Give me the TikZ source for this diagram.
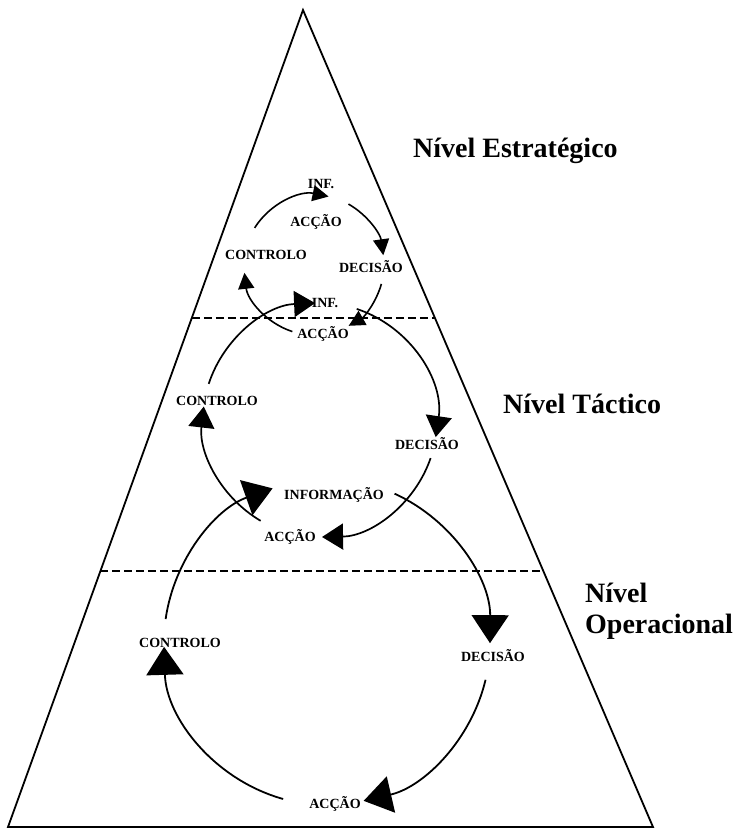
\documentclass[tikz,border=0pt]{standalone}
\usepackage{fontspec}
\setmainfont{Liberation Serif}
\usetikzlibrary{arrows.meta,calc}
\begin{document}
\begin{tikzpicture}[x=1pt,y=-1pt,
  tag/.style={font=\fontsize{14}{15}\selectfont\bfseries, inner sep=0pt, anchor=base},
  level/.style={font=\fontsize{28}{32}\selectfont\bfseries, inner sep=0pt, anchor=base west},
  edge/.style={line width=1.8pt, line join=miter},
  divider/.style={line width=1.6pt, dash pattern=on 8pt off 4pt},
  cycA/.style={line width=1.6pt, -{Triangle[length=16pt,width=16pt]}},
  cycB/.style={line width=1.7pt, -{Triangle[length=21pt,width=26pt]}},
  cycC/.style={line width=1.8pt, -{Triangle[length=28pt,width=37pt]}},
]
\useasboundingbox (0,0) rectangle (735,828);

% pyramid and level dividers
\coordinate (apex) at (303,10);
\coordinate (bl) at (8,827);
\coordinate (br) at (653,827);
\draw[edge] (apex) -- (bl) -- (br) -- cycle;
\coordinate (upL) at ($(apex)!0.377!(bl)$);
\coordinate (upR) at ($(apex)!0.377!(br)$);
\coordinate (loL) at ($(apex)!0.6867!(bl)$);
\coordinate (loR) at ($(apex)!0.6867!(br)$);
\draw[divider] (upL) -- (upR);
\draw[divider] (loL) -- (loR);

% level names
\node[level] (estr) at (413,157) {Nível Estratégico};
\node[level] (tact) at (503,413) {Nível Táctico};
\node[level] (oper1) at (585,602) {Nível};
\node[level] (oper2) at (585,633) {Operacional};

% strategic cycle
\node[tag] (infA) at (321,188) {INF.};
\node[tag] (accA) at (316,226) {ACÇÃO};
\node[tag] (ctlA) at (266,259) {CONTROLO};
\node[tag] (decA) at (371,272) {DECISÃO};
\node[tag] (infB) at (325,307) {INF.};
\node[tag] (accB) at (323,338) {ACÇÃO};
\coordinate (cA) at (314,265);
\draw[cycA] ($(cA)+(-148:70)$) arc[start angle=-148, end angle=-78, radius=70];
\draw[cycA] ($(cA)+(-60.5:70)$) arc[start angle=-60.5, end angle=-8, radius=70];
\draw[cycA] ($(cA)+(15.7:70)$) arc[start angle=15.7, end angle=60.3, radius=70];
\draw[cycA] ($(cA)+(108:70)$) arc[start angle=108, end angle=173.6, radius=70];

% tactical cycle
\node[tag] (ctlB) at (217,405) {CONTROLO};
\node[tag] (decB) at (427,449) {DECISÃO};
\node[tag] (infC) at (334,499) {INFORMAÇÃO};
\node[tag] (accC) at (290,541) {ACÇÃO};
\coordinate (cB) at (320,420);
\draw[cycB] ($(cB)+(-162:117)$) arc[start angle=-162, end angle=-92.4, radius=117];
\draw[cycB] ($(cB)+(-71.7:117)$) arc[start angle=-71.7, end angle=8.4, radius=117];
\draw[cycB] ($(cB)+(19:117)$) arc[start angle=19, end angle=89, radius=117];
\draw[cycB] ($(cB)+(120.5:117)$) arc[start angle=120.5, end angle=186.6, radius=117];

% operational cycle
\node[tag] (ctlC) at (180,647) {CONTROLO};
\node[tag] (decC) at (493,661) {DECISÃO};
\node[tag] (accD) at (335,808) {ACÇÃO};
\coordinate (cC) at (327,642);
\draw[cycC] ($(cC)+(-171.9:163)$) arc[start angle=-171.9, end angle=-109.5, radius=163];
\draw[cycC] ($(cC)+(-65.5:163)$) arc[start angle=-65.5, end angle=0.4, radius=163];
\draw[cycC] ($(cC)+(13.4:163)$) arc[start angle=13.4, end angle=77, radius=163];
\draw[cycC] ($(cC)+(105.6:163)$) arc[start angle=105.6, end angle=178.3, radius=163];
\end{tikzpicture}
\end{document}
